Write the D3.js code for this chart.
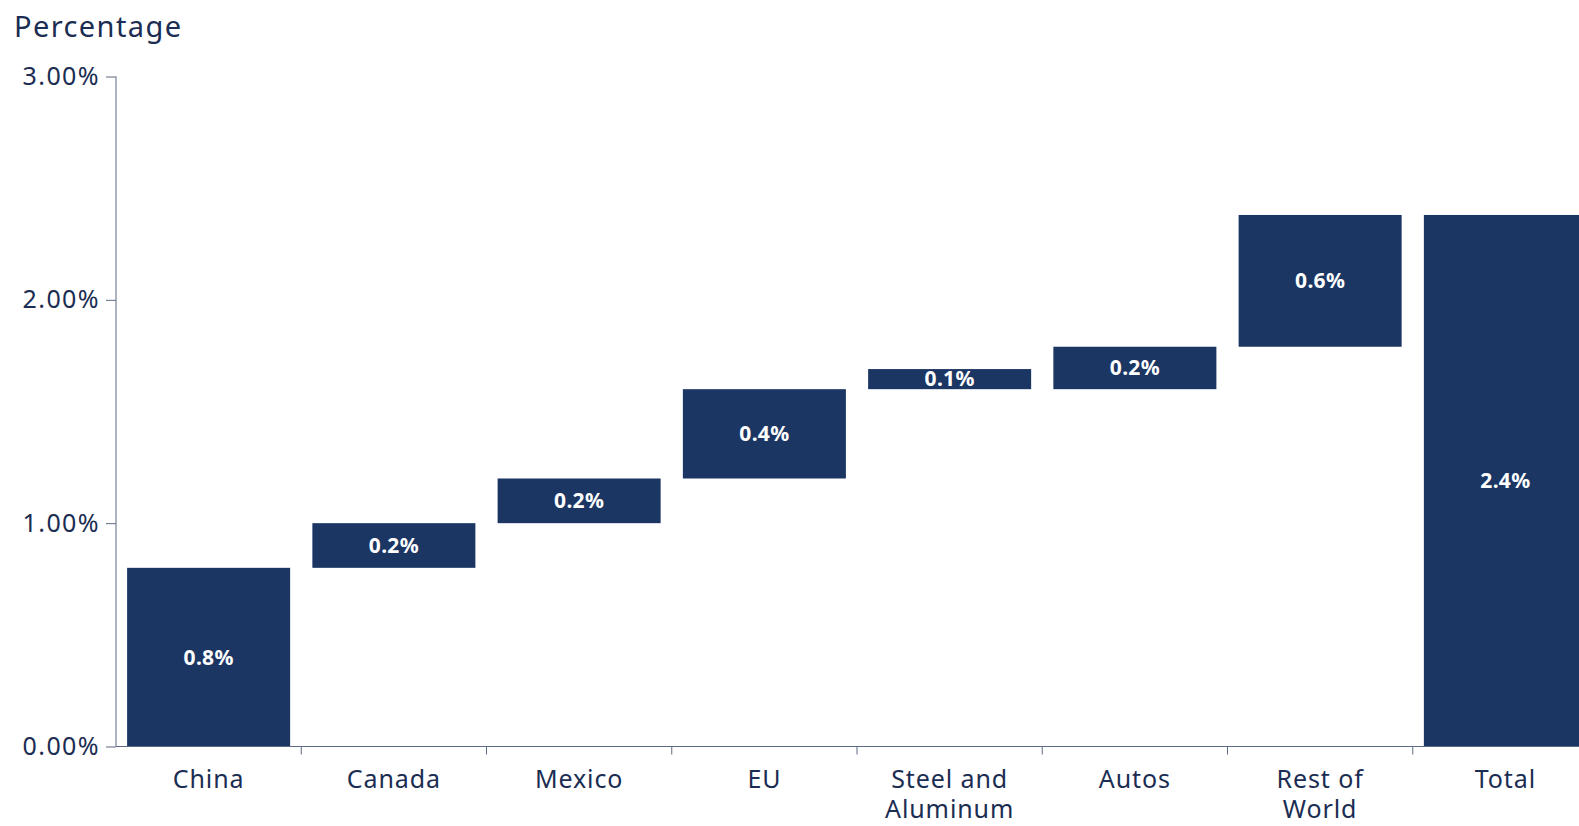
<!DOCTYPE html>
<html>
<head>
<meta charset="utf-8">
<script src="https://cdn.jsdelivr.net/npm/d3@7"></script>
<style>
  body { margin: 0; background: #fff; }
  svg text { font-family: "Noto Sans", "Open Sans", sans-serif; }
</style>
</head>
<body>
<div id="chart"></div>
<script>
// waterfall data
var categories = ["China", "Canada", "Mexico", "EU", "Steel and\nAluminum", "Autos", "Rest of\nWorld", "Total"];
var barStart = [0, 0.8, 1.0, 1.2, 1.6, 1.6, 1.79, 0];
var barEnd = [0.8, 1.0, 1.2, 1.6, 1.69, 1.79, 2.38, 2.38];
var barLabels = ["0.8%", "0.2%", "0.2%", "0.4%", "0.1%", "0.2%", "0.6%", "2.4%"];
var yTicks = [0, 1, 2, 3];

var width = 1579,
    height = 826;

var navy = "#1c3664",
    textColor = "#1b2d52",
    axisColor = "#5d6b82";

var svg = d3.select("#chart").append("svg")
    .attr("width", width)
    .attr("height", height);

var x = d3.scaleBand()
    .domain(categories)
    .range([116, 1598])
    .paddingInner(0.12)
    .paddingOuter(0.06);

var y = d3.scaleLinear()
    .domain([0, 3])
    .range([746.5, 76.5]);

// y title
svg.append("text")
    .attr("x", 14)
    .attr("y", 37)
    .attr("fill", textColor)
    .style("font-size", "29px")
    .style("letter-spacing", "1.4px")
    .text("Percentage");

// bars
var bars = svg.selectAll(".bar")
    .data(categories)
  .enter().append("g")
    .attr("class", "bar");

bars.append("rect")
    .attr("x", function(d) { return x(d); })
    .attr("width", x.bandwidth())
    .attr("y", function(d, i) { return y(barEnd[i]); })
    .attr("height", function(d, i) { return y(barStart[i]) - y(barEnd[i]); })
    .attr("fill", navy);

bars.append("text")
    .attr("x", function(d) { return x(d) + x.bandwidth() / 2; })
    .attr("y", function(d, i) { return (y(barStart[i]) + y(barEnd[i])) / 2; })
    .attr("dy", ".35em")
    .attr("text-anchor", "middle")
    .attr("fill", "#fff")
    .style("font-size", "21px")
    .style("font-weight", "bold")
    .style("letter-spacing", "0.3px")
    .text(function(d, i) { return barLabels[i]; });

// y axis
var yAxis = svg.append("g")
    .attr("transform", "translate(116,0)")
    .call(d3.axisLeft(y)
      .tickValues(yTicks)
      .tickSize(10)
      .tickPadding(6)
      .tickFormat(function(d) { return d3.format(".2f")(d) + "%"; }));

yAxis.select(".domain").attr("stroke", axisColor).attr("d", "M0," + y(3) + "V" + y(0));
yAxis.selectAll(".tick line").attr("stroke", axisColor);
yAxis.selectAll(".tick text")
    .attr("fill", textColor)
    .style("font-size", "25px")
    .style("letter-spacing", "1.4px")
    .style("font-family", "'Noto Sans', sans-serif");

// x axis: line plus ticks at band boundaries
svg.append("line")
    .attr("x1", 116).attr("x2", width)
    .attr("y1", y(0)).attr("y2", y(0))
    .attr("stroke", axisColor);

svg.selectAll(".xtick")
    .data(categories.slice(1))
  .enter().append("line")
    .attr("class", "xtick")
    .attr("x1", function(d) { return x(d) - x.step() * x.paddingInner() / 2; })
    .attr("x2", function(d) { return x(d) - x.step() * x.paddingInner() / 2; })
    .attr("y1", y(0))
    .attr("y2", y(0) + 8)
    .attr("stroke", axisColor);

var catLabels = svg.selectAll(".cat")
    .data(categories)
  .enter().append("text")
    .attr("class", "cat")
    .attr("text-anchor", "middle")
    .attr("fill", textColor)
    .style("font-size", "25px")
    .style("letter-spacing", "0.9px")
    .attr("transform", function(d) {
      return "translate(" + (x(d) + x.bandwidth() / 2) + ",788)";
    });

catLabels.selectAll("tspan")
    .data(function(d) { return d.split("\n"); })
  .enter().append("tspan")
    .attr("x", 0)
    .attr("dy", function(d, i) { return i ? 30 : 0; })
    .text(function(d) { return d; });
</script>
</body>
</html>
